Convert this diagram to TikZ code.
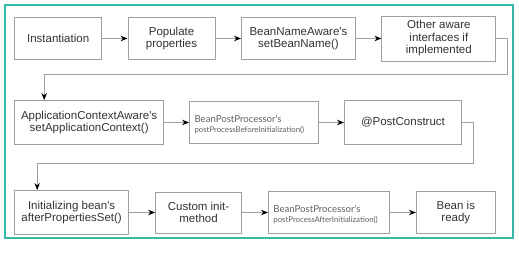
\documentclass[tikz,border=0pt]{standalone}
\usepackage{fontspec}
\usepackage{xcolor}
\usetikzlibrary{arrows.meta}
\usetikzlibrary{matrix, positioning}
\newfontfamily\boxfont{Liberation Sans}
\newfontfamily\hookfont{Lato}
\definecolor{frameteal}{RGB}{52,186,168}
\definecolor{edgegray}{RGB}{160,160,160}
\definecolor{textgray}{RGB}{50,50,50}
\definecolor{hookgray}{RGB}{95,95,95}
\tikzstyle{phase}=[rectangle, draw=edgegray, line width=0.9pt, minimum height=42pt, inner sep=2pt, align=center, text=textgray, font=\boxfont\fontsize{11.5pt}{12.5pt}\selectfont]
\tikzstyle{hook}=[phase, align=left, inner xsep=5pt, text depth=7pt, text=hookgray, font=\hookfont\fontsize{9.6pt}{10pt}\selectfont]

\begin{document}
\begin{tikzpicture}

\tikzset{>={Stealth[length=7pt, width=5.5pt, black]}}
\tikzset{link/.style={->, draw=edgegray, line width=0.9pt}}

\useasboundingbox (0,0) rectangle (519pt,-252pt);
\draw[frameteal, line width=1.2pt] (5pt,-5pt) rectangle (513pt,-238pt);

% First row
\matrix (r1) [
    ampersand replacement=\&,
    column sep=25.5pt,
    anchor=west,
    inner sep=0pt,
] at (14pt,-38.5pt)
{
    \node[phase, minimum width=87pt] (inst) {Instantiation}; \&
    \node[phase, minimum width=87pt] (props) {Populate\\properties}; \&
    \node[phase, minimum width=114pt] (beanname) {BeanNameAware's\\setBeanName()}; \&
    \node[phase, minimum width=114pt, minimum height=45pt] (aware) {Other aware\\interfaces if\\implemented}; \\
};

% Second row
\matrix (r2) [
    ampersand replacement=\&,
    column sep=25pt,
    anchor=west,
    inner sep=0pt,
] at (14pt,-122.5pt)
{
    \node[phase, minimum width=149pt, minimum height=44pt] (appctx) {ApplicationContextAware's\\setApplicationContext()}; \&
    \node[hook, text width=119pt] (before) {BeanPostProcessor's\\{\fontsize{7.8pt}{10pt}\selectfont postProcessBeforeInitialization()}}; \&
    \node[phase, minimum width=117pt, minimum height=44pt] (postc) {@PostConstruct}; \\
};

% Third row
\matrix (r3) [
    ampersand replacement=\&,
    column sep=26pt,
    anchor=west,
    inner sep=0pt,
] at (14pt,-212.5pt)
{
    \node[phase, minimum width=114pt, minimum height=44pt] (afterset) {Initializing bean's\\afterPropertiesSet()}; \&
    \node[phase, minimum width=86pt, minimum height=41pt] (initm) {Custom init-\\method}; \&
    \node[hook, text width=111pt] (after) {BeanPostProcessor's\\{\fontsize{7.8pt}{10pt}\selectfont postProcessAfterInitialization()}}; \&
    \node[phase, minimum width=79pt] (ready) {Bean is\\ready}; \\
};

% Arrows along each row
\draw[link] (inst) -- (props);
\draw[link] (props) -- (beanname);
\draw[link] (beanname) -- (aware);
\draw[link] (appctx) -- (before);
\draw[link] (before) -- (postc);
\draw[link] (afterset) -- (initm);
\draw[link] (initm) -- (after);
\draw[link] (after) -- (ready);

% Arrows wrapping to the next row
\draw[link] (aware.east) -- ++(11pt,0) -- ++(0,-36pt) -| ([xshift=30pt]appctx.north west);
\draw[link] (postc.east) -- ++(12pt,0) -- ++(0,-40.5pt) -| ([xshift=23pt]afterset.north west);

\end{tikzpicture}
\end{document}
